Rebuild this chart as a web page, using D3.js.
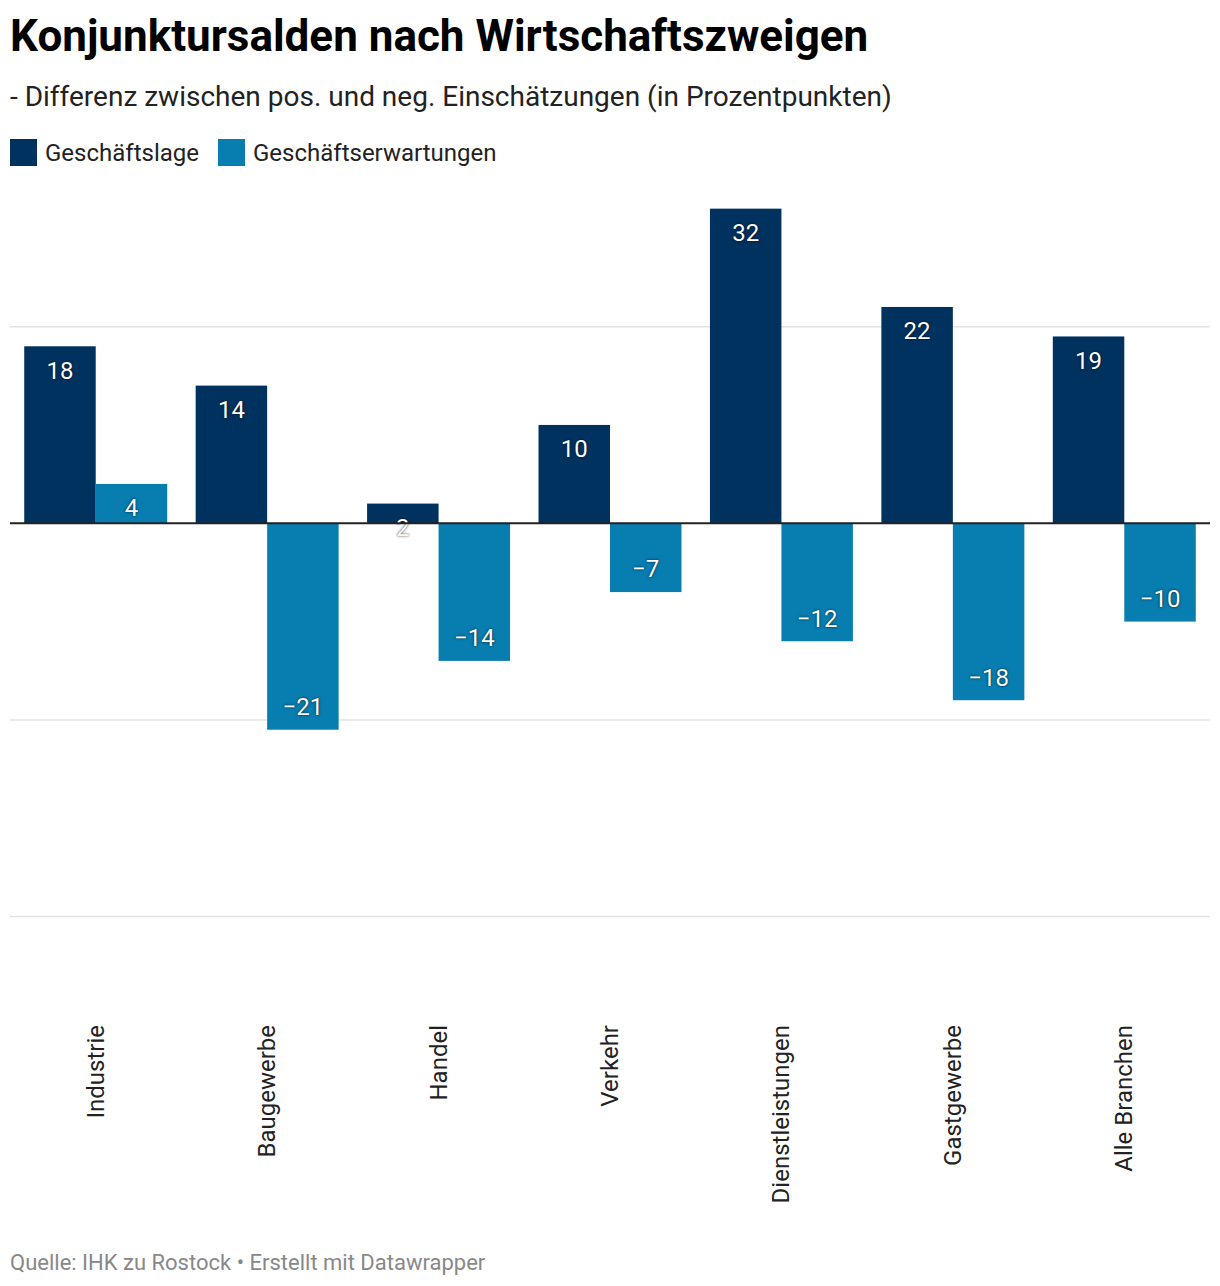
<!DOCTYPE html>
<html>
<head>
<meta charset="utf-8">
<script src="https://cdn.jsdelivr.net/npm/d3@7"></script>
<style>
  body { margin: 0; background: #fff; font-family: Roboto, sans-serif; }
  svg text { font-family: Roboto, sans-serif; }
  .value { fill: #fff; text-shadow: 0 0 3px rgba(0,0,0,0.6), 0 0 1px rgba(0,0,0,0.5); }
</style>
</head>
<body>
<svg id="chart" width="1220" height="1286"></svg>
<script>
// data
var categories = ['Industrie', 'Baugewerbe', 'Handel', 'Verkehr', 'Dienstleistungen', 'Gastgewerbe', 'Alle Branchen'];
var seriesNames = ['Geschäftslage', 'Geschäftserwartungen'];
var lage = [18, 14, 2, 10, 32, 22, 19];
var erwartungen = [4, -21, -14, -7, -12, -18, -10];
var gridTicks = [-40, -20, 20];

var colors = ['#003260', '#077db0'];
var svg = d3.select('#chart');

// header
svg.append('text').attr('x', 10).attr('y', 51)
  .attr('font-size', 44).attr('font-weight', 700).attr('fill', '#000')
  .text('Konjunktursalden nach Wirtschaftszweigen');
svg.append('text').attr('x', 10).attr('y', 106)
  .attr('font-size', 28).attr('fill', '#222')
  .text('- Differenz zwischen pos. und neg. Einschätzungen (in Prozentpunkten)');

// legend
var lx = [10, 218];
seriesNames.forEach(function(name, i) {
  svg.append('rect').attr('x', lx[i]).attr('y', 139).attr('width', 27).attr('height', 27).attr('fill', colors[i]);
  svg.append('text').attr('x', lx[i] + 35).attr('y', 161).attr('font-size', 24).attr('fill', '#222').text(name);
});

// scales
var x0 = d3.scaleBand().domain(categories).range([10, 1210]).paddingInner(0.166).paddingOuter(0.083);
var x1 = d3.scaleBand().domain(seriesNames).range([0, x0.bandwidth()]);
var y = d3.scaleLinear().domain([-40, 40]).range([916.5, 130]);

// grid
svg.append('g').selectAll('line').data(gridTicks).join('line')
  .attr('x1', 10).attr('x2', 1210)
  .attr('y1', function(d) { return y(d); }).attr('y2', function(d) { return y(d); })
  .attr('stroke', '#e3e3e3').attr('stroke-width', 1.5);

var rows = categories.map(function(c, i) {
  return { cat: c, values: [lage[i], erwartungen[i]] };
});

var groups = svg.append('g').selectAll('g').data(rows).join('g')
  .attr('transform', function(d) { return 'translate(' + x0(d.cat) + ',0)'; });

groups.selectAll('rect').data(function(d) {
  return d.values.map(function(v, i) { return { v: v, s: seriesNames[i], i: i }; });
}).join('rect')
  .attr('x', function(d) { return x1(d.s); })
  .attr('width', x1.bandwidth())
  .attr('y', function(d) { return y(Math.max(0, d.v)); })
  .attr('height', function(d) { return Math.abs(y(d.v) - y(0)); })
  .attr('fill', function(d) { return colors[d.i]; });

// zero line
svg.append('line').attr('x1', 10).attr('x2', 1210).attr('y1', y(0)).attr('y2', y(0))
  .attr('stroke', '#222').attr('stroke-width', 2);

// value labels
groups.selectAll('text.value').data(function(d) {
  return d.values.map(function(v, i) { return { v: v, s: seriesNames[i] }; });
}).join('text')
  .attr('class', 'value')
  .attr('x', function(d) { return x1(d.s) + x1.bandwidth() / 2; })
  .attr('y', function(d) { return d.v >= 0 ? y(d.v) + 24 : y(d.v) - 23; })
  .attr('dy', '0.35em')
  .attr('text-anchor', 'middle')
  .attr('font-size', 24)
  .text(function(d) { return d.v < 0 ? '\u2212' + Math.abs(d.v) : d.v; });

// category labels
var xAxis = svg.append('g');
xAxis.selectAll('text').data(categories).join('text')
  .attr('transform', function(d) { return 'translate(' + (x0(d) + x0.bandwidth() / 2 + 8) + ',1025) rotate(-90)'; })
  .attr('text-anchor', 'end')
  .attr('font-size', 24)
  .attr('fill', '#222')
  .text(function(d) { return d; });

// footer
svg.append('text').attr('x', 10).attr('y', 1270)
  .attr('font-size', 22).attr('fill', '#888')
  .text('Quelle: IHK zu Rostock \u2022 Erstellt mit Datawrapper');
</script>
</body>
</html>
